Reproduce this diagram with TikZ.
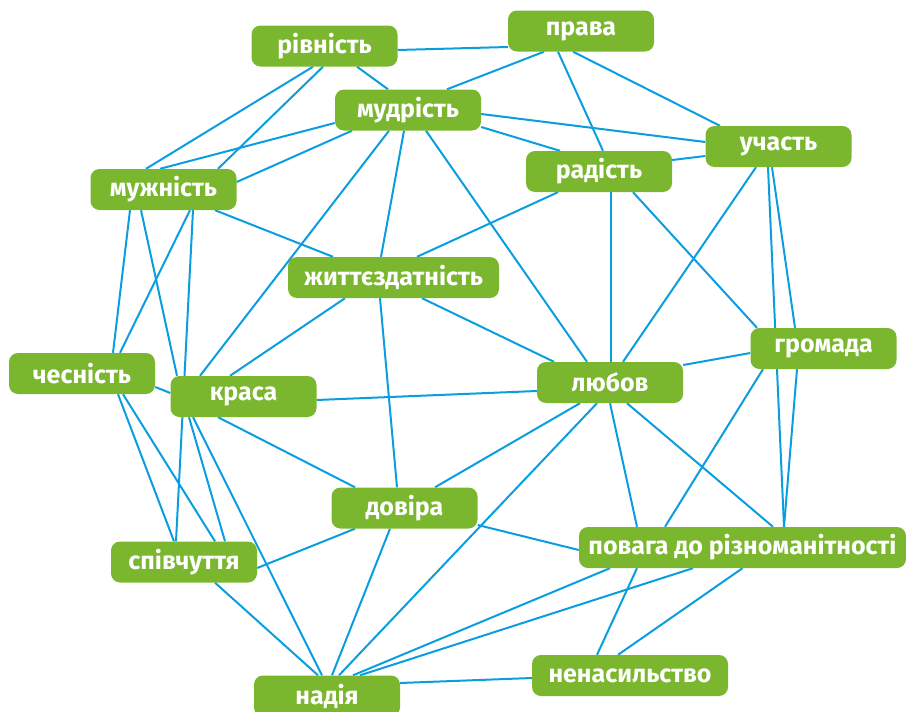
\documentclass[tikz,border=0pt]{standalone}
\usepackage{fontspec}
\setmainfont{Fira Sans}
\usetikzlibrary{calc,backgrounds}

\definecolor{leafgreen}{RGB}{122,183,46}
\definecolor{skyblue}{RGB}{10,158,224}

\begin{document}
\begin{tikzpicture}[x=1pt,y=-1pt,
                    tag/.style={fill=leafgreen, rounded corners=9pt, text=white, inner sep=0pt,
                                minimum width=146pt, minimum height=41pt,
                                font=\bfseries\fontsize{25}{25}\selectfont},
                    link/.style={draw=skyblue, line width=2pt}]
                    \useasboundingbox (0,0) rectangle (906,712);

                    \node[tag] (rivnist) at (324.5,46) {рівність};
                    \node[tag] (prava) at (581,31) {права};
                    \node[tag] (mudrist) at (408,110) {мудрість};
                    \node[tag] (uchast) at (778.5,146.5) {участь};
                    \node[tag] (radist) at (599,171.5) {радість};
                    \node[tag] (muzhnist) at (163.5,189.5) {мужність};
                    \node[tag, minimum width=211pt] (zhyttia) at (393.5,277.5) {життєздатність};
                    \node[tag] (hromada) at (823.5,348.5) {громада};
                    \node[tag] (lyubov) at (610,382.5) {любов};
                    \node[tag] (chesnist) at (82,373.5) {чесність};
                    \node[tag] (krasa) at (243.5,396.5) {краса};
                    \node[tag] (dovira) at (404.5,508) {довіра};
                    \node[tag] (spivchuttia) at (184,562) {співчуття};
                    \node[tag, minimum width=327pt] (povaha) at (742.5,547.5) {повага до різноманітності};
                    \node[tag, minimum width=196pt] (nenasylstvo) at (630,675.5) {ненасильство};
                    \node[tag] (nadiia) at (327,696) {надія};

                    \begin{scope}[on background layer]
                    \draw[link] ($(rivnist.south)+(-11.5,0)$) -- ($(muzhnist.north)+(-17.5,0)$);
                    \draw[link] ($(rivnist.south)+(-1.5,0)$) -- ($(muzhnist.north)+(54.5,0)$);
                    \draw[link] ($(rivnist.south)+(32.5,0)$) -- ($(mudrist.north)+(-20,0)$);
                    \draw[link] ($(rivnist.east)+(0,4)$) -- ($(prava.west)+(0,16)$);

                    \draw[link] ($(prava.south)+(-37,0)$) -- ($(mudrist.north)+(39,0)$);
                    \draw[link] ($(prava.south)+(-23,0)$) -- ($(radist.north)+(4,0)$);
                    \draw[link] ($(prava.south)+(-8,0)$) -- ($(uchast.north)+(-58.5,0)$);

                    \draw[link] ($(mudrist.west)+(0,13)$) -- ($(muzhnist.north)+(-3.5,0)$);
                    \draw[link] ($(mudrist.south)+(-56,0)$) -- ($(muzhnist.east)+(0,-7.5)$);
                    \draw[link] ($(mudrist.south)+(-19,0)$) -- ($(krasa.north)+(-43.5,0)$);
                    \draw[link] ($(mudrist.south)+(-4,0)$) -- ($(zhyttia.north)+(-12.5,0)$);
                    \draw[link] ($(mudrist.south)+(18,0)$) -- ($(lyubov.north)+(-23,0)$);
                    \draw[link] ($(mudrist.east)+(0,4)$) -- ($(uchast.west)+(0,-4.5)$);
                    \draw[link] ($(mudrist.east)+(0,17)$) -- ($(radist.north)+(-39,0)$);

                    \draw[link] ($(uchast.west)+(0,9.5)$) -- ($(radist.east)+(0,-11.5)$);
                    \draw[link] ($(uchast.south)+(-22.5,0)$) -- ($(lyubov.north)+(13,0)$);
                    \draw[link] ($(uchast.south)+(-10.5,0)$) -- ($(povaha.north)+(41.5,0)$);
                    \draw[link] ($(uchast.south)+(-6.5,0)$) -- ($(hromada.north)+(-28.5,0)$);

                    \draw[link] ($(radist.south)+(-41,0)$) -- ($(zhyttia.north)+(23.5,0)$);
                    \draw[link] ($(radist.south)+(12,0)$) -- ($(lyubov.north)+(1,0)$);
                    \draw[link] ($(radist.south)+(34,0)$) -- ($(hromada.north)+(-66.5,0)$);

                    \draw[link] ($(muzhnist.south)+(51.5,0)$) -- ($(zhyttia.north)+(-60.5,0)$);
                    \draw[link] ($(muzhnist.south)+(-33.5,0)$) -- ($(chesnist.north)+(31,0)$);
                    \draw[link] ($(muzhnist.south)+(-22.5,0)$) -- ($(krasa.north)+(-66.5,0)$);
                    \draw[link] ($(muzhnist.south)+(26.5,0)$) -- ($(chesnist.north)+(38,0)$);
                    \draw[link] ($(muzhnist.south)+(29.5,0)$) -- ($(spivchuttia.north)+(-8,0)$);

                    \draw[link] ($(zhyttia.south)+(-48.5,0)$) -- ($(krasa.north)+(-13.5,0)$);
                    \draw[link] ($(zhyttia.south)+(-13.5,0)$) -- ($(dovira.north)+(-7.5,0)$);
                    \draw[link] ($(zhyttia.south)+(28.5,0)$) -- ($(lyubov.north)+(-56,0)$);

                    \draw[link] ($(chesnist.east)+(0,13.5)$) -- ($(krasa.west)+(0,-3.5)$);
                    \draw[link] ($(chesnist.south)+(36,0)$) -- ($(spivchuttia.north)+(-10,0)$);
                    \draw[link] ($(chesnist.south)+(41,0)$) -- ($(spivchuttia.north)+(31,0)$);

                    \draw[link] ($(krasa.east)+(0,3.5)$) -- ($(lyubov.west)+(0,8.5)$);
                    \draw[link] ($(krasa.south)+(-25.5,0)$) -- ($(dovira.north)+(-49.5,0)$);
                    \draw[link] ($(krasa.south)+(-54.5,0)$) -- ($(spivchuttia.north)+(41,0)$);
                    \draw[link] ($(krasa.south)+(-50.5,0)$) -- ($(nadiia.north)+(-5,0)$);

                    \draw[link] ($(dovira.south)+(-49.5,0)$) -- ($(spivchuttia.east)+(0,6)$);
                    \draw[link] ($(dovira.south)+(-14.5,0)$) -- ($(nadiia.north)+(5,0)$);
                    \draw[link] ($(dovira.north)+(30.5,0)$) -- ($(lyubov.south)+(-30,0)$);
                    \draw[link] ($(dovira.east)+(0,17)$) -- ($(povaha.west)+(0,2.5)$);

                    \draw[link] ($(lyubov.east)+(0,-17.5)$) -- ($(hromada.west)+(0,4.5)$);
                    \draw[link] ($(lyubov.south)+(-13,0)$) -- ($(nadiia.north)+(12,0)$);
                    \draw[link] (lyubov.south) -- ($(povaha.north)+(-105.5,0)$);
                    \draw[link] ($(lyubov.south)+(17,0)$) -- ($(povaha.north)+(30.5,0)$);

                    \draw[link] ($(hromada.south)+(-60.5,0)$) -- ($(povaha.north)+(-77.5,0)$);
                    \draw[link] ($(hromada.south)+(-26.5,0)$) -- ($(povaha.north)+(41.5,0)$);

                    \draw[link] ($(povaha.south)+(-132.5,0)$) -- ($(nadiia.north)+(26,0)$);
                    \draw[link] ($(povaha.south)+(-49.5,0)$) -- ($(nadiia.north)+(33,0)$);
                    \draw[link] ($(povaha.south)+(-105.5,0)$) -- ($(nenasylstvo.north)+(-33,0)$);
                    \draw[link] (povaha.south) -- ($(nenasylstvo.north)+(-12,0)$);

                    \draw[link] ($(nenasylstvo.west)+(0,2.5)$) -- ($(nadiia.east)+(0,-13)$);
                    \draw[link] ($(spivchuttia.south)+(31,0)$) -- ($(nadiia.north)+(-9,0)$);
                    \end{scope}
                \end{tikzpicture}
\end{document}
